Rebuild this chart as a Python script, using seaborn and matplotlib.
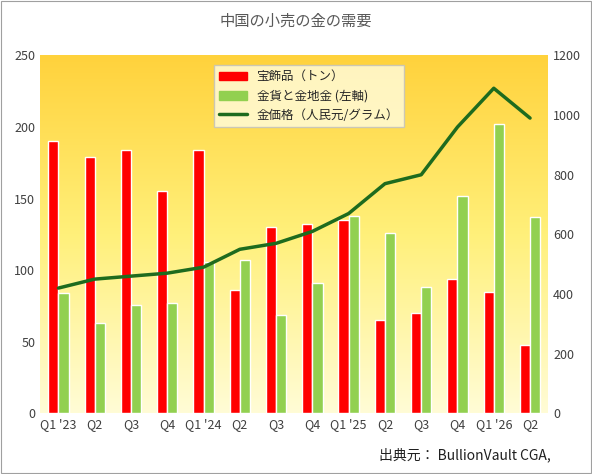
import numpy as np
import pandas as pd
import matplotlib
matplotlib.use("Agg")
import matplotlib.pyplot as plt
import seaborn as sns
from matplotlib.colors import LinearSegmentedColormap
from matplotlib.patches import Rectangle

quarters = ["Q1 '23", "Q2", "Q3", "Q4", "Q1 '24", "Q2", "Q3", "Q4",
            "Q1 '25", "Q2", "Q3", "Q4", "Q1 '26", "Q2"]
jewellery = [190, 179, 184, 155, 184, 86, 130, 132, 135, 65, 70, 94, 85, 48]
bars_coins = [84, 63, 76, 77, 106, 107, 69, 91, 138, 126, 88, 152, 202, 137]
gold_price = [420, 450, 460, 470, 490, 550, 570, 610, 670, 770, 800, 960, 1090, 990]

sns.set_style("white")
plt.rcParams['font.family'] = ['Noto Sans CJK JP', 'DejaVu Sans']

lab_j = "宝飾品（トン）"
lab_c = "金貨と金地金 (左軸)"
lab_p = "金価格（人民元/グラム）"

df = pd.DataFrame({"q": list(range(len(quarters))) * 2,
                   "v": jewellery + bars_coins,
                   "s": [lab_j] * len(quarters) + [lab_c] * len(quarters)})

fig = plt.figure(figsize=(5.92, 4.74), dpi=100)
fig.patches.append(Rectangle((0.002, 0.002), 0.996, 0.996, transform=fig.transFigure,
                             fill=False, edgecolor="#a0a0a0", linewidth=0.8))
ax = fig.add_axes([0.068, 0.128, 0.858, 0.755])

cmap = LinearSegmentedColormap.from_list("bg", ["#FFFCD6", "#FFF07A", "#FFD23C"])
grad = np.linspace(0, 1, 256).reshape(-1, 1)
ax.imshow(grad, cmap=cmap, aspect="auto", extent=[0, 1, 0, 1], origin="lower",
          transform=ax.transAxes, zorder=0)

sns.barplot(data=df, x="q", y="v", hue="s", palette=["#FF0000", "#92D050"],
            saturation=1, width=0.56, ax=ax, zorder=2, legend=False)
ax.set_ylim(0, 250)
ax.set_xlim(-0.5, len(quarters) - 0.5)
ax.set_xticks(range(len(quarters)))
ax.set_xticklabels(quarters)
ax.set_xlabel("")
ax.set_ylabel("")

ax2 = ax.twinx()
sns.lineplot(x=list(range(len(quarters))), y=gold_price, color="#1E6B1E",
             linewidth=2.5, ax=ax2, zorder=3)
ax2.set_ylim(0, 1200)
ax2.set_yticks(range(0, 1201, 200))

for a in (ax, ax2):
    for sp in a.spines.values():
        sp.set_visible(False)
    a.tick_params(length=0, labelsize=9, colors="#404040")

handles = [plt.Rectangle((0, 0), 1, 1, color="#FF0000"),
           plt.Rectangle((0, 0), 1, 1, color="#92D050"),
           plt.Line2D([0], [0], color="#1E6B1E", linewidth=2.5)]
leg = ax2.legend(handles, [lab_j, lab_c, lab_p], loc="upper left",
                 bbox_to_anchor=(0.33, 0.99), fontsize=9, frameon=True,
                 fancybox=False, edgecolor="#c0c0c0", handlelength=2.2)
leg.get_frame().set_facecolor("#FFFDE0")

fig.text(0.5, 0.955, "中国の小売の金の需要", ha="center", va="center",
         fontsize=11, color="#595959")
fig.text(0.93, 0.025, "出典元： BullionVault CGA,", ha="right", va="bottom",
         fontsize=10, color="#202020")

fig.savefig("out.png", dpi=100)
